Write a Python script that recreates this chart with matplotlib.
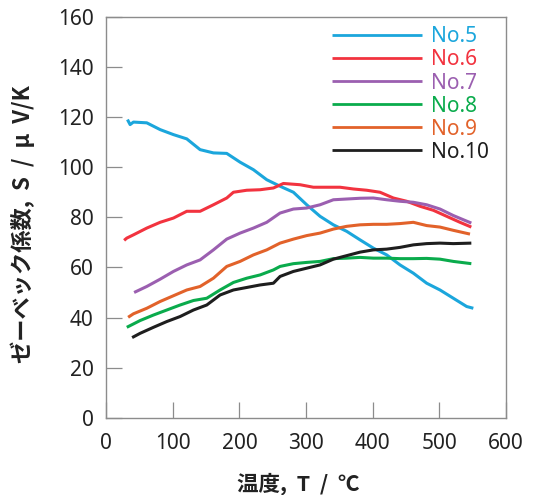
import matplotlib
matplotlib.use("Agg")
import matplotlib.pyplot as plt

plt.rcParams['font.family'] = ['Noto Sans CJK JP', 'DejaVu Sans']

series_names = ["No.5", "No.6", "No.7", "No.8", "No.9", "No.10"]
colors = ["#1ba6dc", "#f2333f", "#9b5fb0", "#0aab4c", "#e2622a", "#1e1e1e"]

x5 = [32, 36, 41, 61, 81, 101, 121, 141, 161, 181, 201, 221, 241, 261, 281, 301, 321, 341, 361, 381, 401, 421, 441, 461, 481, 501, 521, 541, 551]
y5 = [119, 117, 118, 117.7, 115, 113, 111.3, 107, 105.7, 105.5, 102, 99, 95, 92.4, 90, 85, 80.4, 77, 74.4, 71, 67.7, 65, 61, 57.7, 53.7, 51, 47.7, 44.4, 43.7]

x6 = [27, 31, 41, 61, 81, 101, 121, 141, 161, 181, 191, 211, 231, 251, 266, 291, 311, 331, 351, 371, 391, 411, 431, 451, 471, 491, 511, 531, 548]
y6 = [70.8, 71.7, 73, 75.7, 78, 79.7, 82.4, 82.4, 85, 87.7, 90, 90.8, 91, 91.7, 93.5, 93, 92, 92, 92, 91.3, 90.8, 90, 87.7, 86.4, 84.4, 82.8, 80.4, 78, 76.1]

x7 = [42, 61, 81, 101, 121, 141, 161, 181, 201, 221, 241, 261, 281, 301, 321, 341, 361, 381, 401, 421, 441, 461, 481, 501, 521, 548]
y7 = [50, 52.4, 55.3, 58.4, 61, 63, 67, 71.3, 73.7, 75.7, 78, 81.7, 83.3, 83.7, 85, 87, 87.3, 87.6, 87.7, 87, 86.4, 86, 85, 83.3, 80.7, 77.7]

x8 = [31, 51, 71, 91, 111, 131, 151, 171, 191, 211, 231, 251, 261, 281, 301, 321, 341, 361, 381, 401, 421, 441, 461, 481, 501, 521, 548]
y8 = [36.1, 38.8, 41, 43, 45, 46.8, 47.7, 51, 54, 55.7, 57, 59, 60.4, 61.5, 62, 62.4, 63.5, 63.7, 64, 63.7, 63.7, 63.5, 63.5, 63.6, 63.3, 62.4, 61.5]

x9 = [33, 41, 61, 81, 101, 121, 141, 161, 181, 201, 221, 241, 261, 281, 301, 321, 341, 361, 381, 401, 421, 441, 461, 481, 501, 521, 546]
y9 = [40.1, 41.5, 43.7, 46.4, 48.7, 51, 52.4, 55.7, 60.4, 62.4, 65, 67, 69.7, 71.3, 72.7, 73.7, 75.3, 76.4, 77, 77.2, 77.2, 77.5, 78, 76.7, 76.1, 74.8, 73.3]

x10 = [39, 51, 71, 91, 111, 131, 151, 171, 191, 211, 231, 251, 261, 281, 301, 321, 341, 361, 381, 401, 421, 441, 461, 481, 501, 521, 548]
y10 = [32, 33.7, 36.1, 38.4, 40.4, 43, 45, 49, 51, 52, 53, 53.7, 56.4, 58.4, 59.7, 61, 63.3, 64.7, 66.1, 67, 67.3, 68, 69, 69.5, 69.7, 69.5, 69.7]

xs = [x5, x6, x7, x8, x9, x10]
ys = [y5, y6, y7, y8, y9, y10]

x_ticks = [0, 100, 200, 300, 400, 500, 600]
y_ticks = [0, 20, 40, 60, 80, 100, 120, 140, 160]

fig = plt.figure(figsize=(5.36, 4.95), dpi=100)
ax = fig.add_axes([0.198, 0.156, 0.746, 0.810])

for x, y, c, n in zip(xs, ys, colors, series_names):
    ax.plot(x, y, color=c, lw=2.2, label=n, solid_capstyle='butt')

ax.set_xlim(0, 600)
ax.set_ylim(0, 160)
ax.set_xticks(x_ticks)
ax.set_yticks(y_ticks)
for s in ax.spines.values():
    s.set_color("#8c8c8c")
    s.set_linewidth(1.0)
ax.tick_params(direction='in', length=11.5, width=0.9, color="#8c8c8c",
               labelsize=15, labelcolor="#222222")
ax.tick_params(axis='x', pad=11)
ax.tick_params(axis='y', pad=9)
for lab in ax.get_xticklabels() + ax.get_yticklabels():
    lab.set_family(['Noto Sans', 'DejaVu Sans'])

ax.set_xlabel("温度,  T  /  ℃", fontsize=15.5, fontweight='bold', color="#222222")
ax.xaxis.set_label_coords(0.48, -0.137)
ax.set_ylabel("ゼーベック係数,  S  /  μ  V/K", fontsize=16, fontweight='bold', color="#222222")
ax.yaxis.set_label_coords(-0.178, 0.482)

leg = ax.legend(loc='upper left', bbox_to_anchor=(0.545, 0.997), frameon=False,
                prop={'family': ['Noto Sans', 'DejaVu Sans'], 'size': 15},
                handlelength=4.3, handletextpad=0.45,
                labelspacing=0.1, labelcolor='linecolor', borderaxespad=0)
for line in leg.get_lines():
    line.set_linewidth(2.0)

fig.savefig("out.png", dpi=100)
